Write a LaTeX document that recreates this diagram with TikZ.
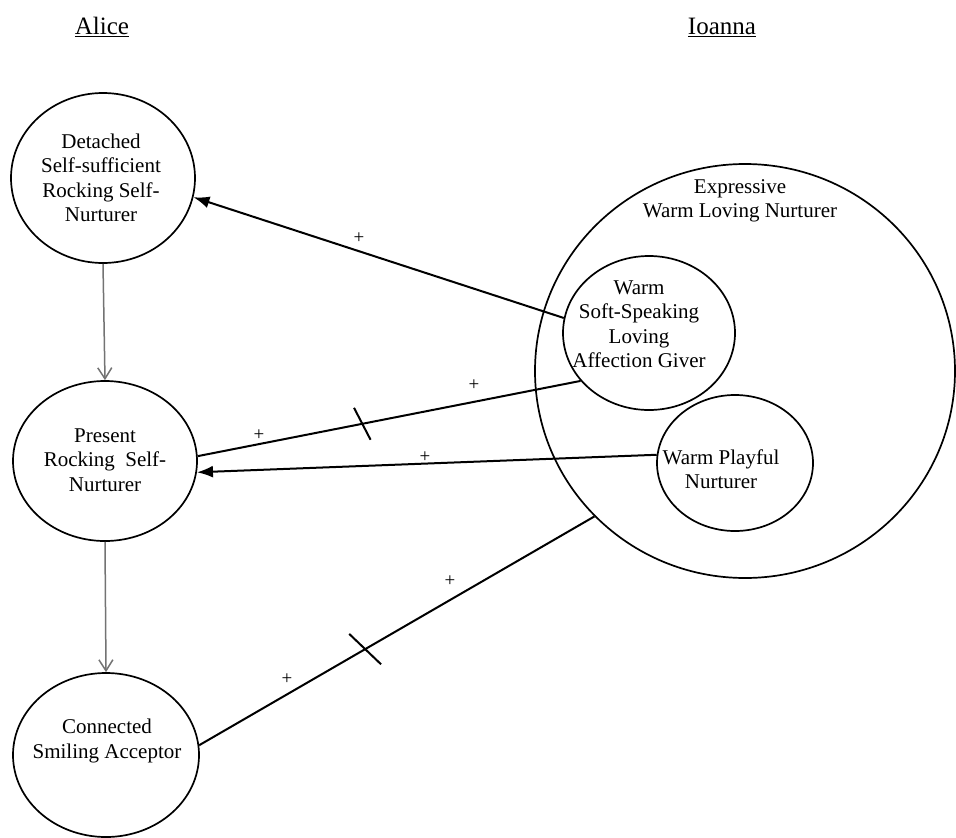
\documentclass[tikz,border=0pt]{standalone}
\usepackage{fontspec}
\setmainfont{Liberation Serif}
\usetikzlibrary{shapes.geometric,arrows.meta,decorations.markings}

\begin{document}
\begin{tikzpicture}[x=1pt,y=-1pt,
  state/.style={ellipse, draw, line width=1.7pt, inner sep=0pt},
  txt/.style={align=center, inner sep=0pt, font=\fontsize{21}{24.5}\selectfont},
  heading/.style={inner sep=0pt, font=\fontsize{25}{28}\selectfont},
  link/.style={line width=2pt},
  arr/.style={link, -{Latex[length=16pt,width=12pt]}},
  flow/.style={line width=1.5pt, draw=black!55, -{Straight Barb[length=11pt,width=14pt]}},
  plus/.style={font=\fontsize{19}{19}\selectfont, inner sep=0pt},
  crossed/.style 2 args={postaction={decorate}, decoration={markings,
      mark=at position #1 with {\draw[line width=2pt] (0.28*#2pt,-0.96*#2pt) -- (-0.28*#2pt,0.96*#2pt);}}}
]
\fill[white] (0,0) rectangle (956,838);
\useasboundingbox (0,0) rectangle (956,838);

% column headings
\node[heading] (alice)  at (102,27) {\underline{Alice}};
\node[heading] (ioanna) at (722,27) {\underline{Ioanna}};

% Alice's states
\node[state, minimum width=184pt, minimum height=170pt] (det)  at (103,178) {};
\node[txt] (det-t) at (101,178) {Detached\\Self-sufficient\\Rocking Self-\\Nurturer};

\node[state, minimum width=184pt, minimum height=160pt] (pres) at (105,461) {};
\node[txt] (pres-t) at (105,460) {Present\\Rocking\ \ Self-\\Nurturer};

\node[state, minimum width=186pt, minimum height=164pt] (conn) at (106,755) {};
\node[txt] (conn-t) at (107,741) {Connected\\Smiling Acceptor};

% Ioanna's states
\node[state, minimum width=420pt, minimum height=414pt] (big) at (745,371) {};
\node[txt] (big-t) at (740,201) {Expressive\\Warm Loving Nurturer};

\node[state, minimum width=172pt, minimum height=154pt] (soft) at (649,333) {};
\node[txt] (soft-t) at (639,324) {Warm\\Soft-Speaking\\Loving\\Affection Giver};

\node[state, minimum width=156pt, minimum height=136pt] (play) at (735,463) {};
\node[txt] (play-t) at (721,469) {Warm Playful\\Nurturer};

% Alice's sequence
\draw[flow] (det.south) -- (pres.north);
\draw[flow] (pres.south) -- (conn.north);

% influences between the two
\draw[arr] (soft.170) -- (det.-12);
\draw[link, crossed={0.43}{18}] (pres.3) -- (soft.215);
\draw[arr] (play.174) -- (pres.-7);
\draw[link, crossed={0.42}{22}] (conn.6) -- (big.224);

% signs
\node[plus] (s1) at (359,238) {+};
\node[plus] (s2) at (259,435) {+};
\node[plus] (s3) at (474,385) {+};
\node[plus] (s4) at (425,457) {+};
\node[plus] (s5) at (287,679) {+};
\node[plus] (s6) at (450,581) {+};
\end{tikzpicture}
\end{document}
